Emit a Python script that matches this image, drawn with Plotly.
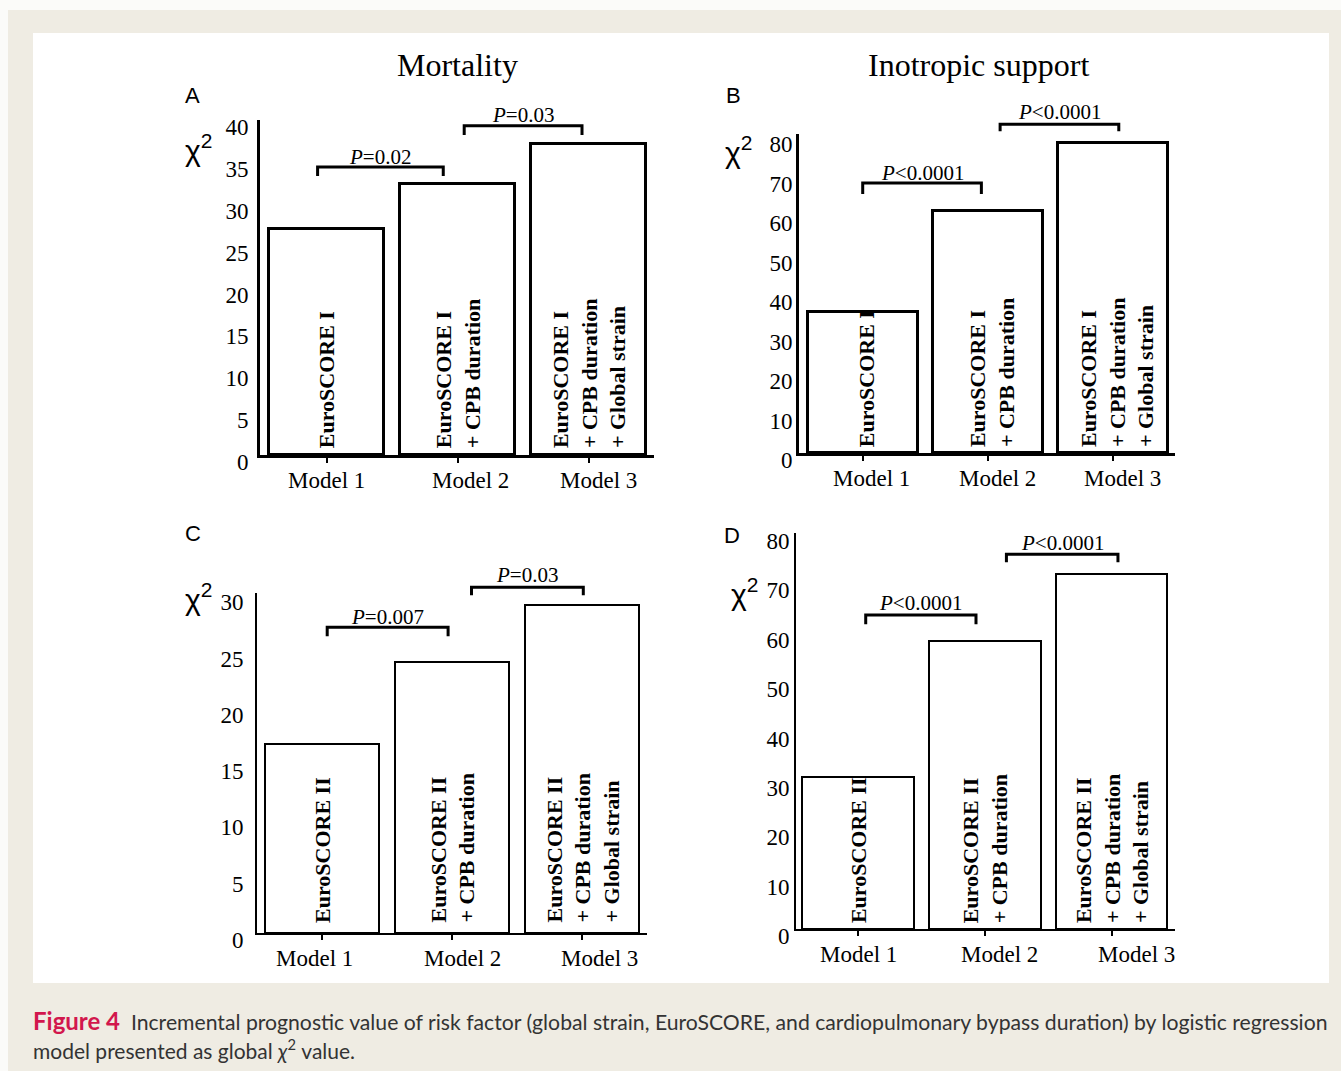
import plotly.graph_objects as go

W, H = 1341, 1071

# ---- data -------------------------------------------------------------
models = ["Model 1", "Model 2", "Model 3"]

chi2_mortality_es1 = [27.0, 32.4, 37.1]
chi2_inotropic_es1 = [35.7, 61.3, 78.5]
chi2_mortality_es2 = [16.8, 24.1, 29.1]
chi2_inotropic_es2 = [30.8, 58.3, 71.9]

bar_text_es1 = ["EuroSCORE I",
                "EuroSCORE I<br>+ CPB duration",
                "EuroSCORE I<br>+ CPB duration<br>+ Global strain"]
bar_text_es2 = ["EuroSCORE II",
                "EuroSCORE II<br>+ CPB duration",
                "EuroSCORE II<br>+ CPB duration<br>+ Global strain"]

p_mortality_es1 = ["=0.02", "=0.03"]
p_inotropic_es1 = ["<0.0001", "<0.0001"]
p_mortality_es2 = ["=0.007", "=0.03"]
p_inotropic_es2 = ["<0.0001", "<0.0001"]

yticks_mortality_es1 = [0, 5, 10, 15, 20, 25, 30, 35, 40]
yticks_inotropic_es1 = [0, 10, 20, 30, 40, 50, 60, 70, 80]
yticks_mortality_es2 = [0, 5, 10, 15, 20, 25, 30]
yticks_inotropic_es2 = [0, 10, 20, 30, 40, 50, 60, 70, 80]

column_titles = ["Mortality", "Inotropic support"]
panel_letters = ["A", "B", "C", "D"]

caption_head = "Figure 4"
caption_line1 = ("Incremental prognostic value of risk factor (global strain, EuroSCORE, "
                 "and cardiopulmonary bypass duration) by logistic regression")
caption_line2 = "model presented as global <i>χ</i><sup>2</sup> value."

# ---- panel geometry (pixels) -------------------------------------------
panels = [
    dict(vals=chi2_mortality_es1, texts=bar_text_es1, pvals=p_mortality_es1, yticks=yticks_mortality_es1,
         x0=260, x1=654, base=455, top=120, ymax=40.0, xr=(-0.51, 2.5), lw=3, standoff=4,
         brackets=[(-0.07, 0.89, 34.4, 33.3), (1.05, 1.95, 39.3, 38.2)], plift=[10, 11],
         label_shift=[0, 13, 10], text_shift=0, text_lift=5,
         letter=(192, 95), chi=(198, 148)),
    dict(vals=chi2_inotropic_es1, texts=bar_text_es1, pvals=p_inotropic_es1, yticks=yticks_inotropic_es1,
         x0=799, x1=1175, base=453, top=134, ymax=80.8, xr=(-0.51, 2.5), lw=3, standoff=-1,
         brackets=[(0.0, 0.95, 68.4, 65.6), (1.1, 2.05, 83.3, 81.5)], plift=[10, 12],
         label_shift=[9, 10, 10], text_shift=4, text_lift=4,
         letter=(733, 95), chi=(738, 150)),
    dict(vals=chi2_mortality_es2, texts=bar_text_es2, pvals=p_mortality_es2, yticks=yticks_mortality_es2,
         x0=257, x1=647, base=933, top=593, ymax=30.2, xr=(-0.5, 2.5), lw=2, standoff=7,
         brackets=[(0.04, 0.97, 27.15, 26.35), (1.15, 2.01, 30.7, 30.0)], plift=[10, 12],
         label_shift=[-8, 10, 17], text_shift=0, text_lift=8,
         letter=(193, 533), chi=(198, 597)),
    dict(vals=chi2_inotropic_es2, texts=bar_text_es2, pvals=p_inotropic_es2, yticks=yticks_inotropic_es2,
         x0=796, x1=1175, base=929, top=533, ymax=80.2, xr=(-0.49, 2.5), lw=2, standoff=0,
         brackets=[(0.06, 0.93, 63.6, 61.7), (1.17, 2.05, 75.9, 74.3)], plift=[12, 11],
         label_shift=[0, 15, 25], text_shift=0, text_lift=4,
         letter=(732, 535), chi=(744, 592)),
]

SERIF = "Liberation Serif, Times New Roman, serif"
SANS = "Liberation Sans, Arial, sans-serif"


def fx(px):
    return px / W


def fy(py):
    return 1 - py / H


def data_to_px(g, x, y):
    xr0, xr1 = g["xr"]
    px = g["x0"] + (x - xr0) / (xr1 - xr0) * (g["x1"] - g["x0"])
    py = g["base"] - y / g["ymax"] * (g["base"] - g["top"])
    return px, py


fig = go.Figure()
shapes = []
annotations = []

# page background and white figure area
shapes.append(dict(type="rect", xref="paper", yref="paper", x0=fx(8), x1=1.0, y0=0.0, y1=fy(10),
                   fillcolor="#efece3", line=dict(width=0), layer="below"))
shapes.append(dict(type="rect", xref="paper", yref="paper", x0=fx(33), x1=fx(1329), y0=fy(983), y1=fy(33),
                   fillcolor="white", line=dict(width=0), layer="below"))

layout_axes = {}
for i, g in enumerate(panels):
    n = i + 1
    xa, ya = f"x{n}", f"y{n}"
    fig.add_trace(go.Bar(
        x=[0, 1, 2], y=g["vals"], width=0.88,
        marker=dict(color="white", line=dict(color="black", width=g["lw"])),
        xaxis=xa, yaxis=ya, showlegend=False, hoverinfo="skip",
    ))
    layout_axes[f"xaxis{n}"] = dict(
        domain=[fx(g["x0"]), fx(g["x1"])], range=list(g["xr"]), anchor=ya,
        showline=True, linewidth=g["lw"], linecolor="black",
        ticks="outside", tickvals=[0, 1, 2], ticklen=5, tickwidth=2, tickcolor="black",
        showticklabels=False, showgrid=False, zeroline=False, fixedrange=True,
        automargin=False,
    )
    layout_axes[f"yaxis{n}"] = dict(
        domain=[fy(g["base"]), fy(g["top"])], range=[0, g["ymax"]], anchor=xa,
        showline=True, linewidth=g["lw"], linecolor="black", ticks="",
        tickvals=g["yticks"], ticktext=[str(v) for v in g["yticks"]],
        tickfont=dict(family=SERIF, size=23, color="black"),
        ticklabelshift=7, ticklabelstandoff=g["standoff"],
        showgrid=False, zeroline=False, fixedrange=True, automargin=False,
    )

    # rotated labels inside the bars
    for k, txt in enumerate(g["texts"]):
        annotations.append(dict(
            xref=xa, yref=ya, x=k, y=0, text=f"<b>{txt}</b>", textangle=-90,
            xanchor="center", yanchor="bottom", align="left",
            xshift=g["text_shift"], yshift=g["text_lift"], showarrow=False,
            font=dict(family=SERIF, size=22, color="black"),
        ))

    # category labels under the axis
    for k, name in enumerate(models):
        annotations.append(dict(
            xref=xa, yref=ya, x=k, y=0, text=name, xanchor="center", yanchor="middle",
            xshift=g["label_shift"][k], yshift=-25, showarrow=False,
            font=dict(family=SERIF, size=23, color="black"),
        ))

    # significance brackets with P values
    for (bx0, bx1, ytop, ybot), pv, lift in zip(g["brackets"], g["pvals"], g["plift"]):
        ax, ayb = data_to_px(g, bx0, ybot)
        _, ayt = data_to_px(g, bx0, ytop)
        bxp, _ = data_to_px(g, bx1, ytop)
        path = (f"M {fx(ax)},{fy(ayb)} L {fx(ax)},{fy(ayt)} "
                f"L {fx(bxp)},{fy(ayt)} L {fx(bxp)},{fy(ayb)}")
        shapes.append(dict(type="path", xref="paper", yref="paper", path=path,
                           line=dict(color="black", width=3)))
        annotations.append(dict(
            xref="paper", yref="paper", x=fx((ax + bxp) / 2), y=fy(ayt - lift),
            text="<i>P</i>" + pv.replace("<", "&lt;"), xanchor="center", yanchor="middle",
            showarrow=False, font=dict(family=SERIF, size=21, color="black"),
        ))

    # panel letter and chi-square axis label
    annotations.append(dict(
        xref="paper", yref="paper", x=fx(g["letter"][0]), y=fy(g["letter"][1]),
        text=panel_letters[i], xanchor="center", yanchor="middle", showarrow=False,
        font=dict(family=SANS, size=22, color="black"),
    ))
    annotations.append(dict(
        xref="paper", yref="paper", x=fx(g["chi"][0]), y=fy(g["chi"][1]),
        text="χ<sup>2</sup>", xanchor="center", yanchor="middle", showarrow=False,
        font=dict(family=SANS, size=30, color="black"),
    ))

# column titles
for title, cx in zip(column_titles, [458, 978]):
    annotations.append(dict(
        xref="paper", yref="paper", x=fx(cx), y=fy(65), text=title,
        xanchor="center", yanchor="middle", showarrow=False,
        font=dict(family=SERIF, size=32, color="black"),
    ))

# caption
CAP = "Lato, Open Sans, sans-serif"
annotations.append(dict(
    xref="paper", yref="paper", x=fx(31), y=fy(1020), xanchor="left", yanchor="middle",
    text=(f"<span style='color:#d2174d'><b>{caption_head}</b></span>"
          f"<span style='font-size:21.2px'>  {caption_line1}</span>"),
    showarrow=False, font=dict(family=CAP, size=24, color="#333333"),
))
annotations.append(dict(
    xref="paper", yref="paper", x=fx(31), y=fy(1049), xanchor="left", yanchor="middle",
    text=caption_line2, showarrow=False, font=dict(family=CAP, size=21, color="#333333"),
))

fig.update_layout(
    width=W, height=H, autosize=False,
    margin=dict(l=0, r=0, t=0, b=0, pad=0, autoexpand=False),
    paper_bgcolor="#fbfbf9", plot_bgcolor="rgba(0,0,0,0)",
    shapes=shapes, annotations=annotations, bargap=0,
    **layout_axes,
)

fig.write_html("out.html")
